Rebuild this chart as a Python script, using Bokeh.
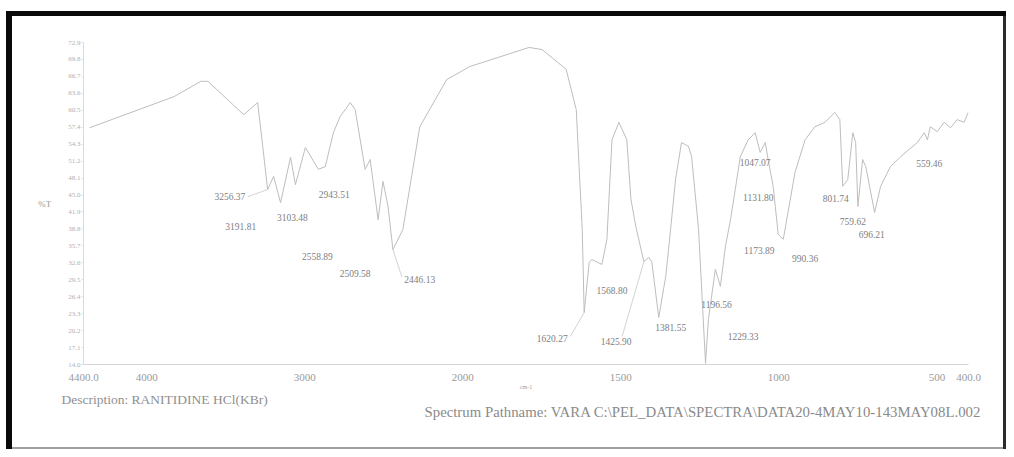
import numpy as np
from bokeh.plotting import figure
from bokeh.models import Range1d, FixedTicker, PrintfTickFormatter, Label, Title
from bokeh.embed import file_html
from bokeh.resources import INLINE

# ---------------- data ----------------
wavenumber = [4362, 3827, 3657, 3613, 3386, 3298, 3267, 3235, 3197, 3153, 3090, 3059,
              2996, 2914, 2870, 2819, 2775, 2712, 2681, 2618, 2586, 2536, 2505, 2473,
              2442, 2379, 2272, 2102, 1978, 1790, 1749, 1673, 1641, 1632, 1622, 1616,
              1600, 1591, 1560, 1544, 1528, 1506, 1481, 1468, 1452, 1427, 1412, 1402,
              1380, 1358, 1349, 1327, 1308, 1286, 1276, 1254, 1232, 1223, 1201, 1185,
              1169, 1153, 1138, 1122, 1097, 1075, 1059, 1043, 1034, 1018, 1002, 986,
              949, 917, 886, 854, 823, 807, 798, 782, 766, 757, 750, 735, 725, 697,
              678, 647, 615, 562, 540, 530, 521, 499, 477, 457, 436, 414, 401]
transmittance = [57.3, 63.0, 65.8, 65.8, 59.7, 61.9, 54.2, 46.0, 48.4, 43.6, 51.9, 46.9,
                 53.7, 49.7, 50.2, 56.4, 59.4, 61.9, 60.6, 49.7, 51.5, 40.5, 47.5, 42.9,
                 35.0, 38.7, 57.5, 66.1, 68.5, 72.0, 71.6, 68.0, 60.6, 50.2, 38.7, 23.5,
                 32.7, 33.2, 32.3, 36.9, 55.1, 58.3, 55.1, 44.2, 39.1, 32.8, 33.6, 32.8,
                 22.6, 30.1, 35.0, 47.8, 54.6, 53.9, 52.0, 38.7, 14.2, 22.2, 31.4, 28.3,
                 35.6, 40.5, 46.0, 52.0, 55.1, 56.4, 52.8, 54.6, 51.5, 46.6, 37.8, 36.9,
                 49.1, 55.1, 57.5, 58.3, 60.1, 58.8, 46.6, 47.8, 56.4, 54.6, 42.9, 51.5,
                 50.2, 41.8, 46.6, 50.2, 52.0, 54.6, 56.4, 55.1, 57.5, 56.6, 58.3, 57.3,
                 58.8, 58.3, 60.1]

y_ticks = [14.0, 17.1, 20.2, 23.3, 26.4, 29.5, 32.6, 35.7, 38.8, 41.9, 45.0, 48.1,
           51.2, 54.3, 57.4, 60.5, 63.6, 66.7, 69.8, 72.9]
x_tick_wn = [4400, 4000, 3000, 2000, 1500, 1000, 500, 400]
x_tick_labels = ["4400.0", "4000", "3000", "2000", "1500", "1000", "500", "400.0"]

peak_labels = ["3256.37", "3191.81", "3103.48", "2943.51", "2558.89", "2509.58",
               "2446.13", "1620.27", "1568.80", "1425.90", "1381.55", "1196.56",
               "1229.33", "1047.07", "1131.80", "1173.89", "990.36", "801.74",
               "759.62", "696.21", "559.46"]
# where each label text sits (wavenumber, %T)
label_wn = [3474, 3405, 3078, 2813, 2920, 2681, 2272, 1717, 1528, 1515, 1342, 1197,
            1113, 1075, 1065, 1062, 917, 820, 766, 706, 524]
label_T = [44.7, 39.2, 40.9, 45.1, 33.75, 30.6, 29.5, 18.75, 27.5, 18.2, 20.8, 25.0,
           19.1, 50.9, 44.5, 34.85, 33.4, 44.4, 40.15, 37.8, 50.8]
# leader lines: (label index, peak wavenumber, start offset in px dx, dy)
leaders = [(0, 3235, 18, 0), (6, 2442, -18, -3), (7, 1616, 18, -2), (9, 1427, 6, -5)]

description = "Description: RANITIDINE HCl(KBr)"
pathname = "Spectrum Pathname: VARA C:\\PEL_DATA\\SPECTRA\\DATA20-4MAY10-143MAY08L.002"


# piecewise wavenumber axis: 4400-2000 compressed, 2000-400 expanded x2
def wn_to_u(w):
    return 4400 - w if w >= 2000 else 2400 + 2 * (2000 - w)


U_MAX = 5600.0
FRAME_W, FRAME_H = 885, 322
Y0, Y1 = 14.0, 72.9
px_u = U_MAX / FRAME_W
px_t = (Y1 - Y0) / FRAME_H

u_data = [wn_to_u(w) for w in wavenumber]

p = figure(width=1006, height=449, output_backend="svg", toolbar_location=None,
           x_range=Range1d(0, U_MAX), y_range=Range1d(Y0, Y1),
           min_border_left=83, min_border_right=38, min_border_top=42, min_border_bottom=85,
           background_fill_alpha=0, border_fill_alpha=0)
p.outline_line_color = None
p.grid.grid_line_color = None
# scanned-page frame: drawn with inset shadows (no effect on layout)
p.styles = {"background-color": "white",
            "box-shadow": ("inset 0 11px 0 0 #ffffff, inset 6px 0 0 0 #ffffff, "
                           "inset 0 16px 0 0 #0a0a0a, inset 12px 0 0 0 #0a0a0a, "
                           "inset -3px 0 0 0 #2a2a2a, inset 0 -2px 0 0 #a0a0a0")}

# spectrum
p.line(u_data, transmittance, line_color="#bdbdbd", line_width=1.0)

# axes
p.xaxis.ticker = FixedTicker(ticks=[wn_to_u(w) for w in x_tick_wn])
p.xaxis.major_label_overrides = {wn_to_u(w): s for w, s in zip(x_tick_wn, x_tick_labels)}
p.xaxis.axis_line_color = "#d4d4d4"
p.xaxis.major_tick_line_color = None
p.xaxis.minor_tick_line_color = None
p.xaxis.major_label_text_font = "Liberation Serif"
p.xaxis.major_label_text_font_size = "11px"
p.xaxis.major_label_text_color = "#9a9a9a"
p.xaxis.major_label_standoff = 3
p.xaxis.axis_label = "cm-1"
p.xaxis.axis_label_text_font = "Liberation Serif"
p.xaxis.axis_label_text_font_size = "6px"
p.xaxis.axis_label_text_font_style = "normal"
p.xaxis.axis_label_text_color = "#a0a0a0"
p.xaxis.axis_label_standoff = 0

p.yaxis.ticker = FixedTicker(ticks=y_ticks)
p.yaxis.formatter = PrintfTickFormatter(format="%.1f")
p.yaxis.axis_line_color = "#dadada"
p.yaxis.major_tick_line_color = "#e0e0e0"
p.yaxis.major_tick_out = 2
p.yaxis.major_tick_in = 0
p.yaxis.minor_tick_line_color = None
p.yaxis.major_label_text_font = "Liberation Serif"
p.yaxis.major_label_text_font_size = "7px"
p.yaxis.major_label_text_color = "#b0b0b0"
p.yaxis.major_label_standoff = 1
p.yaxis.axis_label = "%T"
p.yaxis.axis_label_orientation = "horizontal"
p.yaxis.axis_label_text_font = "Liberation Serif"
p.yaxis.axis_label_text_font_size = "9px"
p.yaxis.axis_label_text_font_style = "normal"
p.yaxis.axis_label_text_color = "#9a9a9a"
p.yaxis.axis_label_standoff = 14

# texts below the axis
p.add_layout(Title(text=description, align="left", offset=-22, text_font="Liberation Serif",
                   text_font_size="13.5px", text_font_style="normal", text_color="#8f8f8f",
                   standoff=-5), "below")
p.add_layout(Title(text=pathname, align="left", offset=341, text_font="Liberation Serif",
                   text_font_size="14.8px", text_font_style="normal", text_color="#8a8a8a",
                   standoff=-5), "below")

# peak labels
for s, w, t in zip(peak_labels, label_wn, label_T):
    p.add_layout(Label(x=wn_to_u(w), y=t, text=s, text_align="center",
                       text_baseline="middle", text_font="Liberation Serif",
                       text_font_size="9.5px", text_color="#808080"))

# leader lines from labels to peaks
x0s, y0s, x1s, y1s = [], [], [], []
wn_sorted = wavenumber[::-1]
t_sorted = transmittance[::-1]
for i, pw, dx, dy in leaders:
    x0s.append(wn_to_u(label_wn[i]) + dx * px_u)
    y0s.append(label_T[i] - dy * px_t)
    x1s.append(wn_to_u(pw))
    y1s.append(float(np.interp(pw, wn_sorted, t_sorted)))
p.segment(x0s, y0s, x1s, y1s, line_color="#c8c8c8", line_width=0.8)

open("out.html", "w").write(file_html(p, INLINE))
